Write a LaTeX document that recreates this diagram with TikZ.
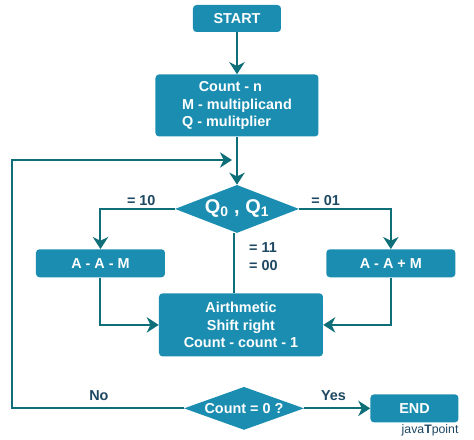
\documentclass[tikz,border=0pt]{standalone}
\usepackage{fontspec}
\setmainfont{Liberation Sans}
\usepackage{xcolor}
\usepackage{tikz}
\usetikzlibrary{positioning,arrows.meta,shapes.geometric}
\definecolor{boxblue}{RGB}{26,141,176}
\definecolor{arrowteal}{RGB}{15,111,120}
\definecolor{labelnavy}{RGB}{30,72,98}
\tikzset{
  box-node/.style={fill=boxblue, rounded corners=3pt, text=white,
    font=\fontsize{12.3}{14.6}\selectfont\bfseries, align=center, inner sep=0pt},
  decision-node/.style={diamond, fill=boxblue, inner sep=0pt},
  decision-text/.style={text=white, font=\fontsize{12.3}{14.6}\selectfont\bfseries},
  flow-arrow/.style={-{Stealth[length=3.6mm, width=4.6mm, inset=1.1mm]}, line width=1.7pt, draw=arrowteal},
  flow-line/.style={line width=1.7pt, draw=arrowteal},
  branch-label/.style={text=labelnavy, font=\fontsize{12.3}{15.3}\selectfont\bfseries, inner sep=0pt, align=left}
}
\begin{document}
\begin{tikzpicture}
\useasboundingbox (-7.11,0.555) rectangle (7.11,-12.645);
% Start and setup at top
\node[box-node, minimum width=2.64cm, minimum height=0.81cm] (start) {START};
\node[box-node, below=1.26cm of start, minimum width=4.89cm, minimum height=1.86cm, align=left] (setup)
  {\hspace*{0.5cm}Count - n\\
   M - multiplicand\\
   Q - mulitplier};

% First decision
\node[decision-node, below=1.44cm of setup, minimum width=3.72cm, minimum height=1.44cm,
  label={[text=white, font=\fontsize{17}{20}\selectfont\bfseries]center:Q\textsubscript{0} , Q\textsubscript{1}}] (qtest) {};

% Two branch boxes
\node[box-node, below left=0.84cm and 1.22cm of qtest, minimum width=3.87cm, minimum height=0.84cm] (subtract) {A - A - M};
\node[box-node, below right=0.84cm and 1.74cm of qtest, minimum width=3.87cm, minimum height=0.84cm] (add) {A - A + M};

% Shift box below
\node[box-node, below=1.8cm of qtest, xshift=0.12cm, minimum width=4.92cm, minimum height=1.89cm] (shift)
  {Airthmetic\\
   Shift right\\
   Count - count - 1};

% Second decision and end
\node[decision-node, below=0.9cm of shift, xshift=0.09cm, minimum width=3.6cm, minimum height=1.29cm,
  label={[decision-text]center:Count = 0 ?}] (check) {};
\node[box-node, right=1.98cm of check, minimum width=2.64cm, minimum height=0.84cm] (finish) {END};
\node[below left=0.06cm and 0cm of finish.south east, inner sep=0pt, text=labelnavy, font=\fontsize{10.5}{12}\selectfont] (brand) {java\textbf{T}point};

% Loop back corners
\coordinate (merge) at (-0.15,-4.245);
\coordinate (loopleft) at (-6.75,-4.245);

% Arrows down the middle
\draw[flow-arrow] (start) -- (setup);
\draw[flow-arrow] (setup.south) -- (qtest.north);
\draw[flow-arrow] (check.west) -| (loopleft) -- (merge);

% Arrows through the branches
\draw[flow-arrow] (qtest.west) -| (subtract.north);
\draw[flow-arrow] (qtest.east) -| (add.north);
\draw[flow-arrow] (subtract.south) |- (shift.west);
\draw[flow-arrow] (add.south) |- (shift.east);
\draw[flow-line] ([xshift=-0.09cm]qtest.south) -- ([xshift=-0.09cm]qtest.south |- shift.north);
\draw[flow-arrow] (check.east) -- (finish.west);

% Branch labels
\node[branch-label, above left=0.1cm and 0.57cm of qtest.west] (lbten) {= 10};
\node[branch-label, above right=0.1cm and 0.36cm of qtest.east] (lbone) {= 01};
\node[branch-label, below right=0.29cm and 0.36cm of qtest.south] (lbsame) {= 11\\= 00};
\node[branch-label, above left=0.21cm and 2.25cm of check.west] (lbno) {No};
\node[branch-label, above right=0.21cm and 0.5cm of check.east] (lbyes) {Yes};
\end{tikzpicture}
\end{document}
